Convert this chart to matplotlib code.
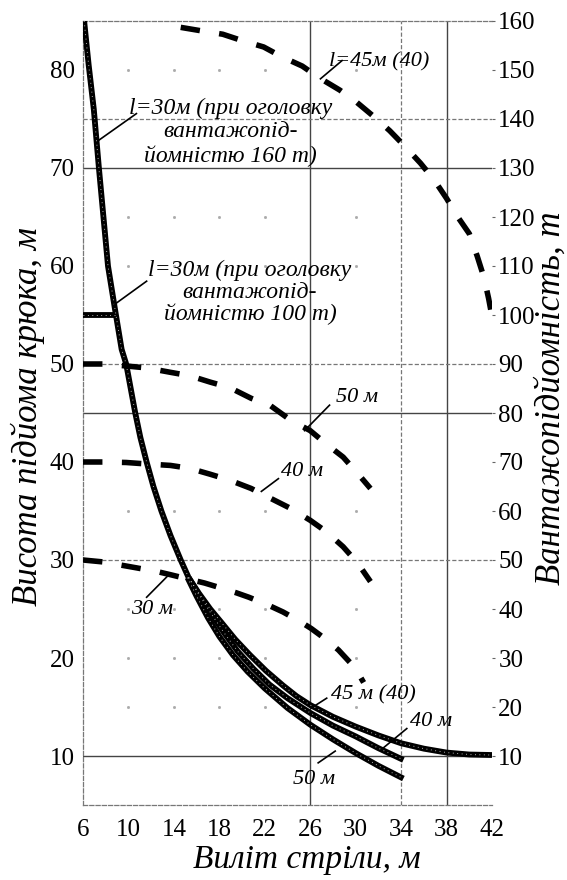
import numpy as np
import matplotlib
matplotlib.use("Agg")
import matplotlib.pyplot as plt

# висота підйому крюка (ліва вісь), м
reach_30 = [6.1, 6.5, 6.95, 7.4, 7.8, 8.2, 8.8, 9.4, 9.8, 10.6, 11.05, 11.6, 12.2, 12.9, 13.7, 14.6, 15.3]
height_30 = [85, 80.5, 76, 70, 65, 60, 55.7, 51.5, 50, 45, 42.5, 40, 37.5, 35, 32.5, 30, 28.2]
reach_30_100 = [6.0, 9.0]
height_30_100 = [55, 55]
reach_45 = [15.3, 16.2, 17.2, 18.2, 19.4, 20.7, 22.1, 23.6, 24.8, 26, 28, 30, 32, 34, 36, 38, 40, 42]
height_45 = [28.2, 26.6, 25.0, 23.6, 21.9, 20.3, 18.7, 17.2, 16.1, 15.2, 14.0, 13.0, 12.1, 11.3,
             10.75, 10.35, 10.15, 10.1]
reach_40 = [15.3, 16.3, 17.3, 18.4, 19.6, 21, 22.4, 24, 26, 28, 30, 32, 34.2]
height_40 = [28.2, 26.3, 24.5, 22.6, 20.7, 18.9, 17.3, 15.9, 14.4, 13.1, 12.0, 10.8, 9.6]
reach_50 = [15.2, 16.0, 17.0, 18.0, 19.2, 20.5, 22, 24, 26, 28, 30, 32, 34.2]
height_50 = [28.2, 26.3, 24.1, 22.2, 20.3, 18.6, 16.9, 14.9, 13.2, 11.7, 10.3, 9.0, 7.7]

# вантажопідйомність (права вісь), т
cap_reach_45 = [14.6, 16.4, 18.3, 20, 21.9, 23.5, 25.3, 26.8, 28.6, 30.1, 31.7, 33,
                34.3, 35.7, 36.9, 38, 38.9, 40, 40.7, 41.3, 41.7, 42]
cap_45 = [158.7, 158, 157.3, 156, 154.7, 152.7, 150.8, 148.4, 145.9, 143.4, 140.3, 137.6,
          134.5, 131, 127.6, 123.8, 120.3, 116.6, 112, 107.6, 103.4, 99.7]
cap_reach = [6, 7.9, 9.8, 11.6, 13.7, 15.4, 17.2, 18.9, 20.8, 22.5, 24.3, 26, 27.4, 28.9, 30.2, 31.3]
cap_50 = [90, 90, 89.6, 89.2, 88.3, 87.6, 86.3, 85.2, 83, 81.5, 78.5, 76.4, 73.7, 71, 67.6, 64.6]
cap_40 = [70, 70, 69.9, 69.6, 69.3, 68.7, 67.5, 66.3, 64.6, 62.6, 60.5, 58.1, 55.8, 52.7, 49.3, 45.6]
cap_reach_30 = [6, 7.8, 9, 10.7, 12.6, 13.7, 15.1, 16.7, 17.7, 19.5, 20.6, 22.2, 23.6, 25,
                26.1, 27.5, 28.5, 29.7, 30.2, 30.7]
cap_30 = [50, 49.6, 49.1, 48.4, 47.6, 47.0, 46.2, 45.3, 44.6, 43.3, 42.4, 40.9, 39.4, 37.6,
          36.0, 33.6, 31.6, 28.6, 27.0, 25.0]

x_ticks = [6, 10, 14, 18, 22, 26, 30, 34, 38, 42]
left_ticks = [10, 20, 30, 40, 50, 60, 70, 80]
right_ticks = list(range(10, 161, 10))

plt.rcParams['font.family'] = ['Liberation Serif', 'DejaVu Serif']
plt.rcParams['lines.scale_dashes'] = False

fig = plt.figure(figsize=(5.67, 8.8), dpi=100)
ax = fig.add_axes([83 / 567, 1 - 805 / 880, 409 / 567, 784 / 880])
ax2 = ax.twinx()
ax.set_xlim(6, 42)
ax.set_ylim(5, 85)
ax2.set_ylim(0, 160)

grid_c = '#444444'
dot_c = '#777777'
# суцільні лінії сітки
for xv in [26, 38]:
    ax.axvline(xv, color=grid_c, lw=1.0, zorder=1)
for yv in [70, 45, 10]:
    ax.axhline(yv, color=grid_c, lw=1.0, zorder=1)
# пунктирні лінії сітки
ax.axvline(34, color=dot_c, lw=0.9, ls=(0, (3, 1.5)), zorder=1)
for yv in [75, 50, 30]:
    ax.axhline(yv, color=dot_c, lw=0.9, ls=(0, (3, 1.5)), zorder=1)
# ледь помітні точки сітки
gx, gy = np.meshgrid([10, 14, 18, 22, 30], [15, 20, 25, 35, 60, 65, 80])
ax.plot(gx.ravel(), gy.ravel(), ls='none', marker='s', ms=1.0, color='#aaaaaa', zorder=1)

for side in ['left', 'bottom', 'top']:
    ax.spines[side].set_linestyle((0, (3, 1.5)))
    ax.spines[side].set_color(dot_c)
    ax.spines[side].set_linewidth(0.9)
    ax2.spines[side].set_visible(False)
ax.spines['right'].set_visible(False)
ax2.spines['right'].set_visible(False)

# суцільні криві (висота підйому)
def solid(xs, ys):
    ax.plot(xs, ys, color='black', lw=4.2, solid_capstyle='butt', zorder=3)
    ax.plot(xs, ys, color='#c8c8c8', lw=0.7, ls=(0, (0.6, 2.6)), zorder=4)

solid(reach_30, height_30)
solid(reach_30_100, height_30_100)
solid(reach_45, height_45)
solid(reach_40, height_40)
solid(reach_50, height_50)

# штрихові криві (вантажопідйомність)
for xs, ys in [(cap_reach_45, cap_45), (cap_reach, cap_50), (cap_reach, cap_40), (cap_reach_30, cap_30)]:
    ax2.plot(xs, ys, color='black', lw=4.0, ls=(0, (14, 14)), dash_capstyle='butt', zorder=3)

# підписи та виноски
big = dict(style='italic', fontsize=17, color='black', zorder=6)
tkw = dict(style='italic', fontsize=16, color='black', zorder=6)
ax.text(19.0, 73.65, 'l=30м (при оголовку\nвантажопід-\nйомністю 160 т)', ha='center', va='center',
        linespacing=1.15, **big)
ax.plot([7.35, 10.7], [72.8, 75.55], color='black', lw=1.2, zorder=5)
ax.text(20.7, 57.3, 'l=30м (при оголовку\nвантажопід-\nйомністю 100 т)', ha='center', va='center',
        linespacing=1.06, **big)
ax.plot([8.8, 11.6], [56.1, 58.45], color='black', lw=1.2, zorder=5)
ax.text(32.05, 80.8, 'l=45м (40)', ha='center', va='center', **tkw)
ax.plot([26.9, 28.8], [79.1, 80.96], color='black', lw=1.2, zorder=5)
ax.text(30.1, 46.6, '50 м', ha='center', va='center', **tkw)
ax.plot([25.5, 27.7], [43.2, 45.8], color='black', lw=1.2, zorder=5)
ax.text(25.3, 39.0, '40 м', ha='center', va='center', **tkw)
ax.plot([21.7, 23.2], [37.0, 38.3], color='black', lw=1.2, zorder=5)
ax.text(12.1, 24.9, '30 м', ha='center', va='center', **tkw)
ax.plot([11.6, 13.65], [26.2, 28.6], color='black', lw=1.2, zorder=5)
ax.text(31.6, 16.25, '45 м (40)', ha='center', va='center', **tkw)
ax.plot([26.1, 27.45], [14.9, 15.9], color='black', lw=1.2, zorder=5)
ax.text(36.6, 13.55, '40 м', ha='center', va='center', **tkw)
ax.plot([32.3, 34.5], [10.7, 12.8], color='black', lw=1.2, zorder=5)
ax.text(26.3, 7.6, '50 м', ha='center', va='center', **tkw)
ax.plot([26.7, 28.2], [9.3, 10.5], color='black', lw=1.2, zorder=5)

# осі
ax.set_xticks(x_ticks)
ax.set_yticks(left_ticks)
ax.tick_params(axis='x', length=0, pad=10, labelsize=18)
ax.tick_params(axis='y', length=0, pad=6, labelsize=18)
ax2.set_yticks(right_ticks)
ax2.tick_params(axis='y', length=2.5, width=0.8, color='#666666', pad=2, labelsize=18)

fig.text(307 / 567, 1 - 860 / 880, 'Виліт стріли, м', ha='center', va='center',
         style='italic', fontsize=24)
fig.text(28 / 567, 1 - 417 / 880, 'Висота підйома крюка, м', ha='center', va='center',
         rotation=90, style='italic', fontsize=25)
fig.text(551 / 567, 1 - 398 / 880, 'Вантажопідйомність, т', ha='center', va='center',
         rotation=90, style='italic', fontsize=25)

fig.savefig('out.png', dpi=100)
